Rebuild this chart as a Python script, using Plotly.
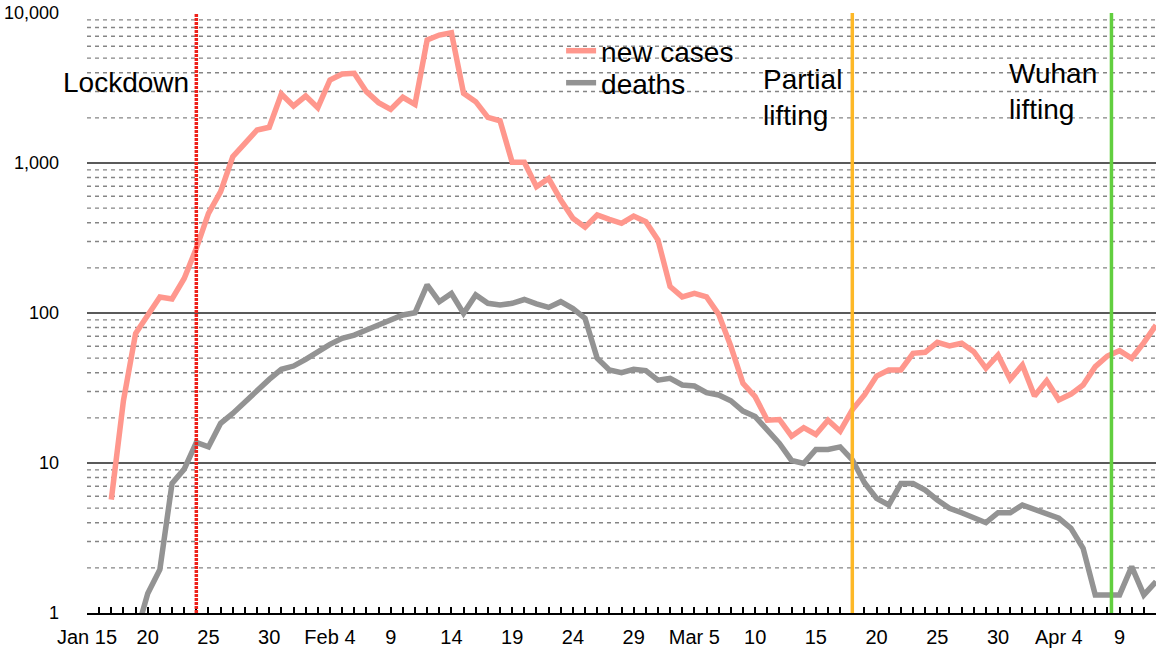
import plotly.graph_objects as go
import pandas as pd

dates = pd.date_range("2020-01-15", "2020-04-12", freq="D")

new_cases = [None, None, 5.7, 26, 73, 97, 128, 124, 170, 270, 462, 644, 1101, 1352, 1660, 1730,
             2884, 2400, 2797, 2337, 3575, 3920, 3966, 2990, 2525, 2279, 2743, 2462, 6607, 7130,
             7393, 2915, 2564, 2015, 1913, 1010, 1010, 695, 790, 567, 428, 373, 450, 421, 396,
             443, 406, 307, 150, 128, 135, 128, 98, 60, 34, 27.7, 19.3, 19.5, 15.1, 17.2, 15.5,
             19.3, 16.3, 22.6, 28.4, 38, 41.7, 41.7, 53.8, 54.7, 63.7, 60.3, 62.8, 55.2, 42.8,
             52.5, 36.1, 45, 28, 35.4, 26.3, 28.8, 33.1, 43.9, 51.7, 56.1, 49.9, 63.4, 83]

deaths = [None, None, None, None, 0.7, 1.35, 1.95, 7.3, 9.1, 13.7, 12.8, 18.4, 21.4, 25.6, 31,
          36.1, 42.1, 44.3, 49.1, 55.2, 61.8, 67.8, 71.3, 77, 83, 89.8, 97, 100.4, 154, 119, 135,
          99.5, 132, 116, 113, 116, 123, 115, 109, 119, 107, 92, 49.9, 41.7, 40, 42.1, 41.3,
          35.7, 36.7, 33.1, 32.6, 29.4, 28.4, 26, 22.2, 20.4, 16.6, 13.5, 10.4, 9.95, 12.3, 12.3,
          12.8, 10.5, 7.39, 5.81, 5.25, 7.3, 7.3, 6.6, 5.67, 4.99, 4.66, 4.34, 4.0, 4.66, 4.66,
          5.25, 4.91, 4.62, 4.28, 3.67, 2.7, 1.32, 1.32, 1.32, 2.04, 1.32, 1.62]

x_tick_dates = pd.date_range("2020-01-15", "2020-04-09", freq="5D")
x_tick_text = ["Jan 15", "20", "25", "30", "Feb 4", "9", "14", "19", "24", "29",
               "Mar 5", "10", "15", "20", "25", "30", "Apr 4", "9"]

y_tick_vals = [1, 10, 100, 1000, 10000]
y_tick_text = ["1", "10", "100", "1,000", "10,000"]

events = [
    {"date": "2020-01-24", "label": "Lockdown", "color": "#EE2019", "dash": "3px,1px", "shift": -5, "y": 0.885},
    {"date": "2020-03-18", "label": "Partial<br>lifting", "color": "#FDB827", "dash": "solid", "shift": -8, "y": 0.86},
    {"date": "2020-04-08 08:00", "label": "Wuhan<br>lifting", "color": "#62CF3F", "dash": "solid", "shift": -12, "y": 0.87},
]

FONT = "Liberation Sans, Arial, Helvetica, sans-serif"

fig = go.Figure()
fig.add_trace(go.Scatter(x=dates, y=new_cases, mode="lines", name="new cases",
                         line=dict(color="#FF978D", width=5.5), legend="legend"))
fig.add_trace(go.Scatter(x=dates, y=deaths, mode="lines", name="deaths",
                         line=dict(color="#939393", width=5.5), legend="legend2"))

# minor dashed gridlines
for decade in [1, 10, 100, 1000]:
    for m in range(2, 10):
        fig.add_shape(type="line", xref="paper", yref="y", x0=0, x1=1, y0=decade * m, y1=decade * m,
                      line=dict(color="#858585", width=1.4, dash="4px,4px"), layer="below")

for ev in events:
    fig.add_shape(type="line", xref="x", yref="paper", x0=ev["date"], x1=ev["date"], y0=0, y1=1,
                  line=dict(color=ev["color"], width=3.5, dash=ev["dash"]), layer="above")
    fig.add_annotation(x=ev["date"], xref="x", y=ev["y"], yref="paper", text=ev["label"],
                       showarrow=False, xanchor="right", yanchor="middle", align="left",
                       xshift=ev["shift"], font=dict(family=FONT, size=28, color="black"))

legend_common = dict(xanchor="left", yanchor="middle", bgcolor="rgba(0,0,0,0)",
                     font=dict(family=FONT, size=28, color="black"), itemwidth=30,
                     borderwidth=0)

fig.update_layout(
    width=1166, height=656,
    margin=dict(l=87, r=10, t=13, b=43, autoexpand=False),
    paper_bgcolor="white", plot_bgcolor="white",
    font=dict(family=FONT, color="black"),
    showlegend=True,
    legend=dict(x=0.4435, y=(613 - 51) / 600, **legend_common),
    legend2=dict(x=0.4435, y=(613 - 83) / 600, **legend_common),
    xaxis=dict(
        range=[dates[0], dates[-1]], showgrid=False, zeroline=False, automargin=False,
        showline=True, linecolor="black", linewidth=2,
        tickvals=x_tick_dates, ticktext=x_tick_text,
        ticks="inside", ticklen=6, tickwidth=1.5, tickcolor="black",
        tickfont=dict(family=FONT, size=20, color="black"),
        ticklabelstandoff=5,
        minor=dict(ticks="inside", ticklen=6, tickwidth=1.5, tickcolor="black",
                   dtick=86400000, tick0="2020-01-15", showgrid=False),
    ),
    yaxis=dict(
        type="log", range=[0, 4], showline=False, zeroline=False, automargin=False,
        showgrid=True, gridcolor="#5A5A5A", gridwidth=1.5,
        tickvals=y_tick_vals, ticktext=y_tick_text, ticks="",
        tickfont=dict(family=FONT, size=18, color="black"),
        ticklabelstandoff=27,
    ),
)

fig.write_html("out.html", config={"displayModeBar": False},
               post_script="document.body.style.margin='0';document.body.style.overflow='hidden';")
